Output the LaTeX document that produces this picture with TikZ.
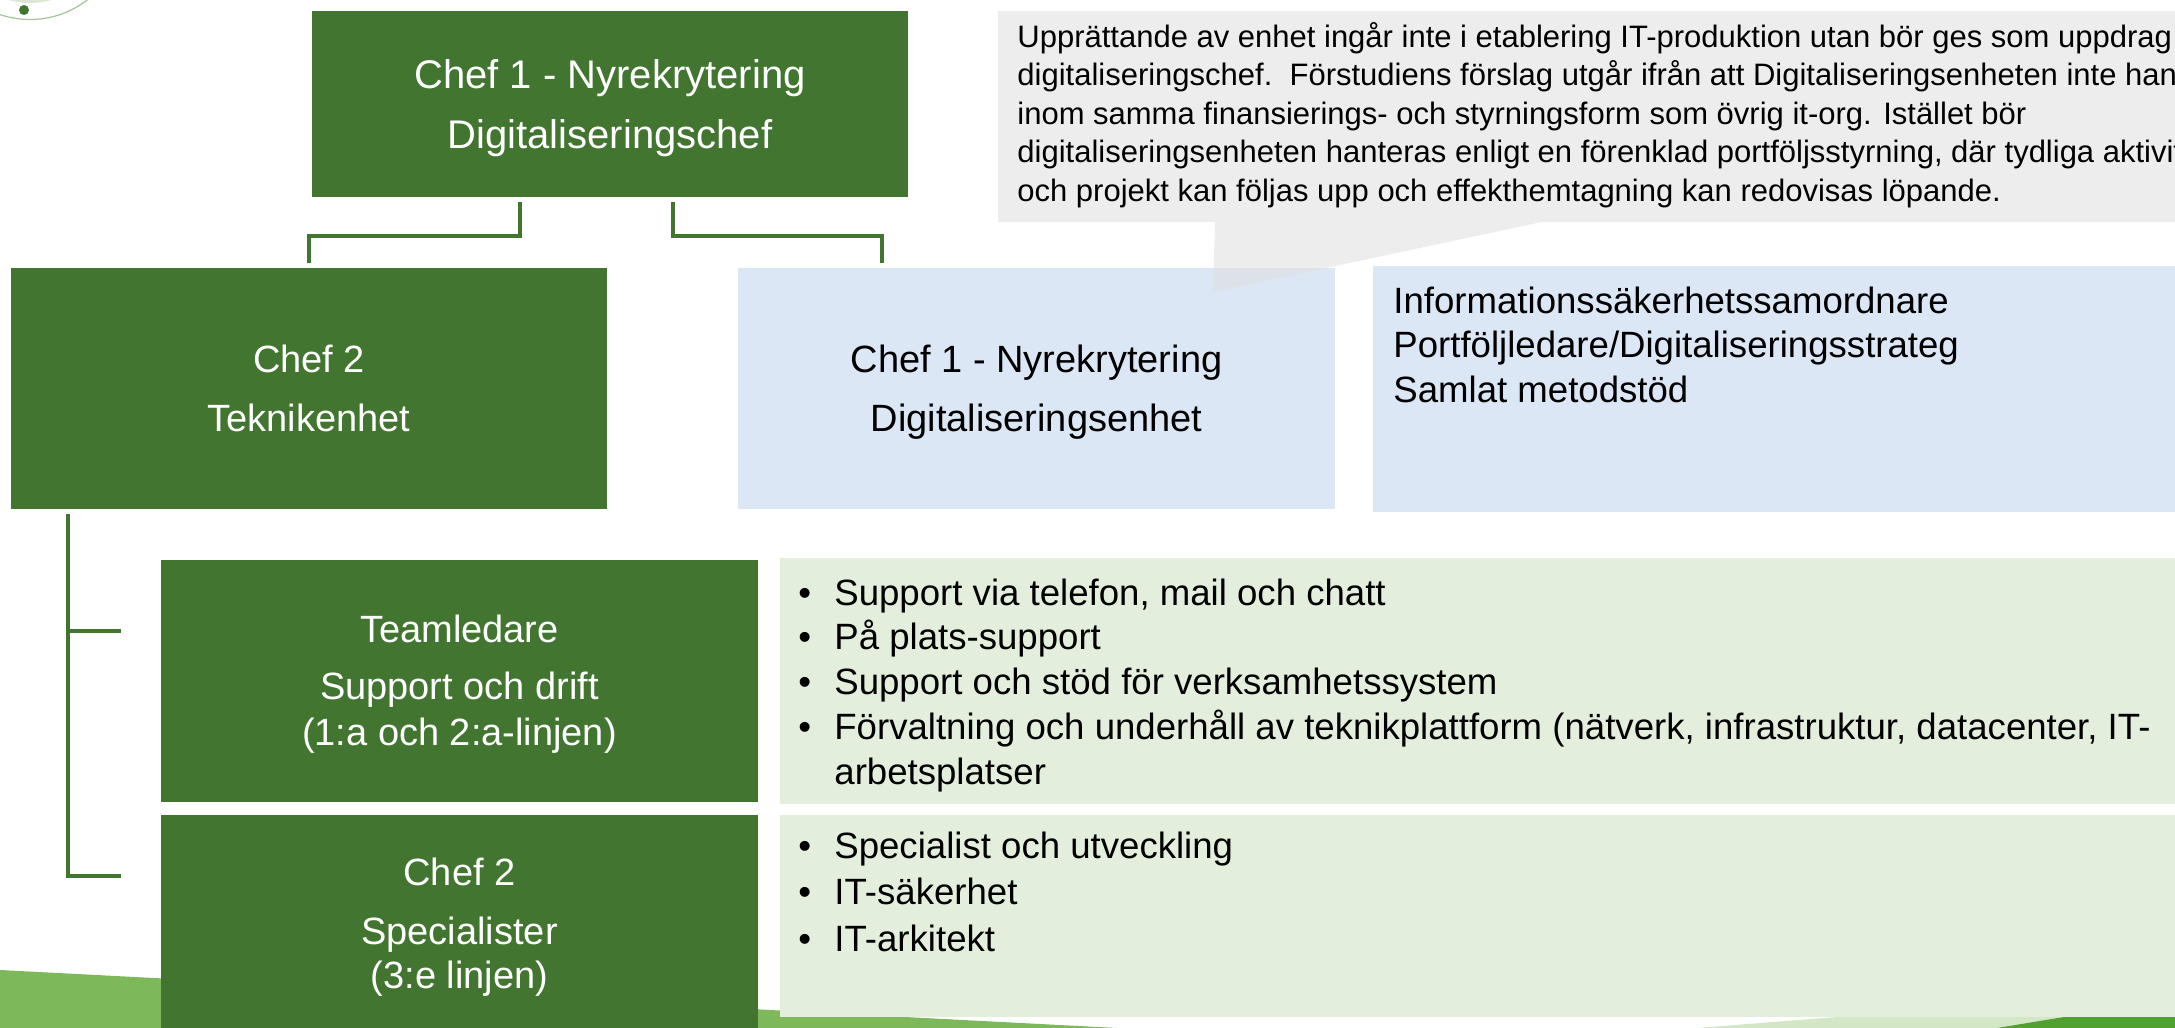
\documentclass[tikz,border=0pt]{standalone}
\usepackage{fontspec}
\setmainfont{Liberation Sans}
\usetikzlibrary{calc}
\definecolor{dgreen}{HTML}{427530}
\definecolor{lblue}{HTML}{DBE7F5}
\definecolor{lgreen}{HTML}{E3EFDC}
\definecolor{callgray}{HTML}{DFDFDF}
\definecolor{midgreen}{HTML}{7DB85B}
\definecolor{palegreen}{HTML}{D3E6C6}
\definecolor{brightgreen}{HTML}{50A12D}
\definecolor{ringgreen}{HTML}{A3C496}
\definecolor{ringpale}{HTML}{DCE6D6}
\newcommand{\mybul}{\makebox[18pt][l]{\textbullet}}
\begin{document}
\begin{tikzpicture}[x=0.5pt,y=-0.5pt,
  gbox/.style={fill=dgreen, text=white, align=center, inner sep=0pt},
  bbox/.style={fill=lblue, inner sep=0pt},
  lbox/.style={fill=lgreen, inner sep=0pt},
  conn/.style={draw=dgreen, line width=2pt, shorten <=2.5pt, shorten >=2.5pt},
  ttl/.style={font=\fontsize{19}{23}\selectfont},
  body/.style={font=\fontsize{18.3}{22.4}\selectfont, inner sep=0pt, anchor=base west},
]
\useasboundingbox (0,0) rectangle (2175,1028);
\clip (0,0) rectangle (2175,1028);

% background decoration
\fill[midgreen] (0,970) -- (1117,1028) -- (0,1028) -- cycle;
\fill[palegreen] (1697,1028) -- (2180,990) -- (2180,1028) -- cycle;
\fill[brightgreen] (1997,1028) -- (2180,998) -- (2180,1028) -- cycle;
\draw[ringpale, line width=2pt] (30,-74) circle (75);
\draw[ringgreen, line width=0.6pt] (30,-74) circle (93.5);
\fill[dgreen] (24,10) circle (5);

% boxes
\node[gbox, minimum width=298pt, minimum height=93pt] (top) at (610,104) {};
\node[text=white, align=center, inner sep=0pt, font=\fontsize{20}{24}\selectfont] (toptext) at (610,108) {Chef 1 - Nyrekrytering\\[6pt]Digitaliseringschef};
\node[gbox, ttl, minimum width=298pt, minimum height=120.5pt] (tek) at (309,388.5) {Chef 2\\[6.5pt]Teknikenhet};
\node[bbox, minimum width=298.5pt, minimum height=120.5pt] (dig) at (1036.5,388.5) {};
\node[ttl, align=center, inner sep=0pt] (digtext) at (1036.5,392.5) {Chef 1 - Nyrekrytering\\[6.5pt]Digitaliseringsenhet};
\node[bbox, minimum width=413.5pt, minimum height=123pt] (roles) at (1786.5,389) {};
\node[gbox, minimum width=298.5pt, minimum height=121pt] (team) at (459.5,681) {};
\node[ttl, text=white, align=center, inner sep=0pt] (teamtext) at (459.5,684) {Teamledare\\[5.5pt]Support och drift\\(1:a och 2:a-linjen)};
\node[lbox, minimum width=710pt, minimum height=123pt] (sup) at (1490,681) {};
\node[gbox, minimum width=298.5pt, minimum height=108.5pt] (spec) at (459.5,923.5) {};
\node[ttl, text=white, align=center, inner sep=0pt] (spectext) at (459.5,927.5) {Chef 2\\[6.5pt]Specialister\\[-1pt](3:e linjen)};
\node[lbox, minimum width=710pt, minimum height=101pt] (dev) at (1490,916) {};

% texts
\node[body] (rolestext) at (1393,313) {\begin{tabular}[t]{@{}l@{}}
Informationssäkerhetssamordnare\\
Portföljledare/Digitaliseringsstrateg\\
Samlat metodstöd
\end{tabular}};
\node[body] (suptext) at (798,605) {\begin{tabular}[t]{@{}l@{}l@{}}
\mybul & Support via telefon, mail och chatt\\
\mybul & På plats-support\\
\mybul & Support och stöd för verksamhetssystem\\
\mybul & Förvaltning och underhåll av teknikplattform (nätverk, infrastruktur, datacenter, IT-\\
 & arbetsplatser
\end{tabular}};
\node[body, font=\fontsize{18.3}{23.3}\selectfont] (devtext) at (798,858) {\begin{tabular}[t]{@{}l@{}l@{}}
\mybul & Specialist och utveckling\\
\mybul & IT-säkerhet\\
\mybul & IT-arkitekt
\end{tabular}};

% callout
\fill[callgray, opacity=0.55] (998,11) -- (2200,11) -- (2200,222) -- (1542,222) -- (1213,292) -- (1215,222) -- (998,222) -- cycle;
\node[font=\fontsize{15.5}{19.25}\selectfont, inner sep=0pt, anchor=base west] (note) at (1017,47) {\begin{tabular}[t]{@{}l@{}}
Upprättande av enhet ingår inte i etablering IT-produktion utan bör ges som uppdrag till\\
digitaliseringschef.\ \ Förstudiens förslag utgår ifrån att Digitaliseringsenheten inte hanteras\\
inom samma finansierings- och styrningsform som övrig it-org. Istället bör\\
digitaliseringsenheten hanteras enligt en förenklad portföljsstyrning, där tydliga aktiviteter\\
och projekt kan följas upp och effekthemtagning kan redovisas löpande.
\end{tabular}};

% connectors
\draw[conn] ($(top.south)+(-90,0)$) -- ++(0,39) -| (tek.north);
\draw[conn] ($(top.south)+(63,0)$) -- ++(0,39) -| ($(dig.north west)+(144,0)$);
\coordinate (vs) at ($(tek.south west)+(57,0)$);
\coordinate (b1) at ($(team.north west)+(-40,71)$);
\coordinate (b2) at ($(spec.north west)+(-40,61)$);
\draw[conn, shorten >=0pt] (vs) |- (b2);
\draw[conn, shorten <=0pt, shorten >=0pt] (vs |- b1) -- (b1);
\end{tikzpicture}
\end{document}
